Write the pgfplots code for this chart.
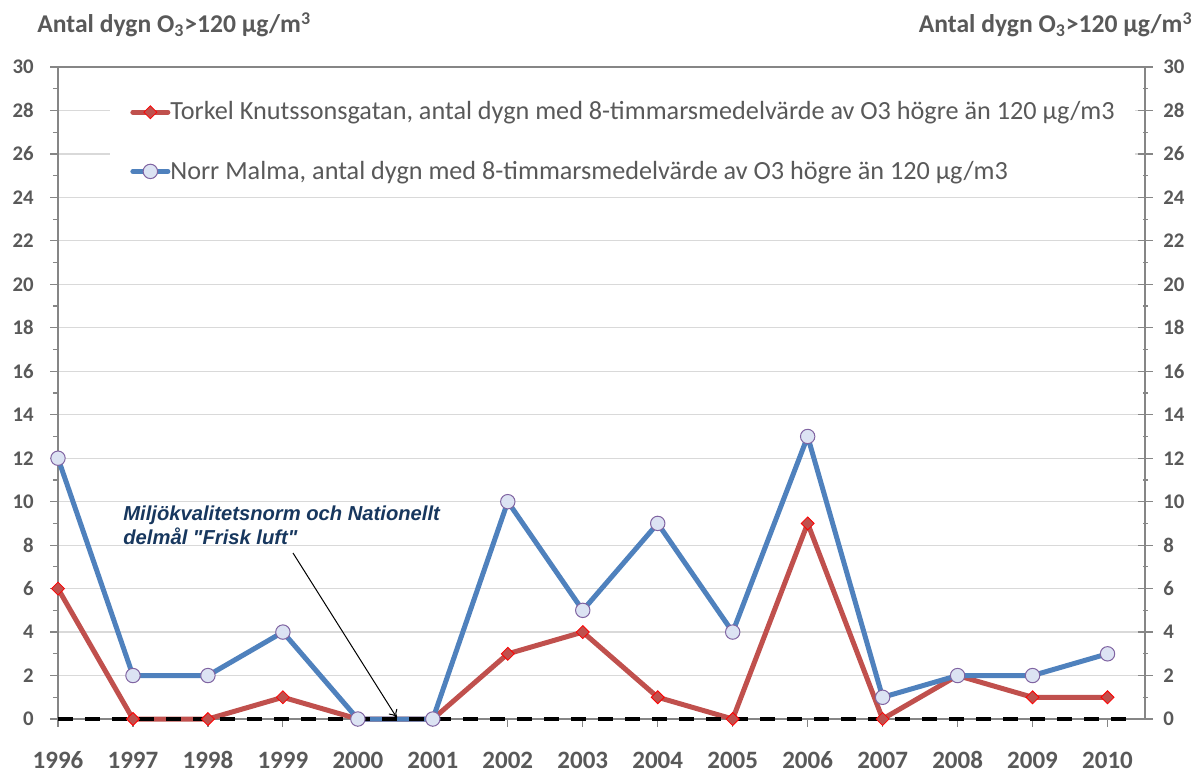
\documentclass[border=0pt]{standalone}
\usepackage{fontspec}
\setmainfont{Carlito}
\newfontfamily\arialfont{Liberation Sans}
\usepackage{pgfplots}
\usepackage{pgfplotstable}
\pgfplotsset{compat=1.18}
\usetikzlibrary{arrows.meta}
\definecolor{txtgray}{HTML}{595959}
\definecolor{axgray}{HTML}{868686}
\definecolor{gridgray}{HTML}{D9D9D9}
\definecolor{tkred}{HTML}{C0504D}
\definecolor{nmblue}{HTML}{4F81BD}
\definecolor{nmfill}{HTML}{DCE3F3}
\definecolor{nmedge}{HTML}{8064A2}
\definecolor{annblue}{HTML}{17375E}

\pgfplotstableread{
idx tk nm
0 6 12
1 0 2
2 0 2
3 1 4
4 0 0
5 0 0
6 3 10
7 4 5
8 1 9
9 0 4
10 9 13
11 0 1
12 2 2
13 1 2
14 1 3
}\datatable

\begin{document}
\begin{tikzpicture}
\begin{axis}[
  name=main,
  scale only axis, width=543.5pt, height=326pt,
  xmin=0, xmax=14.5, ymin=0, ymax=30,
  clip=false,
  axis line style={axgray, line width=0.6pt},
  xtick={0,...,14},
  xticklabels={1996,1997,1998,1999,2000,2001,2002,2003,2004,2005,2006,2007,2008,2009,2010},
  xtick pos=bottom,
  ytick={0,2,...,30}, ytick pos=left,
  minor y tick num=1,
  tick align=outside,
  major tick length=3.75pt, minor tick length=2.5pt,
  tick style={axgray, line width=0.6pt},
  ymajorgrids, grid style={gridgray, line width=0.6pt},
  /pgf/number format/assume math mode=true,
  xticklabel style={font=\fontsize{12.5}{15}\selectfont\bfseries, text=txtgray, anchor=north, inner sep=0pt, yshift=-12.4pt},
  yticklabel style={font=\fontsize{10.4}{12}\selectfont\bfseries, text=txtgray, anchor=east, inner sep=0pt, xshift=-8.25pt},
  legend image code/.code={\draw[mark repeat=2, mark phase=2, #1] plot coordinates {(0pt,0pt) (8.75pt,0pt) (17.5pt,0pt)};},
  legend style={at={(0.0478,0.969)}, anchor=north west, draw=none, fill=white,
    font=\fontsize{13.1}{15.7}\selectfont, text=txtgray, row sep=17pt,
    inner xsep=10pt, inner ysep=6pt,
    nodes={inner xsep=0pt, inner ysep=1pt},
    /tikz/every even column/.append style={column sep=0pt}},
  legend cell align=left,
]
\addplot[tkred, line width=2.5pt, line join=round, forget plot] table[x=idx, y=tk]{\datatable};
\addplot[nmblue, line width=2.5pt, line join=round, forget plot] table[x=idx, y=nm]{\datatable};
\addplot[black, line width=2.2pt, dash pattern=on 7.3pt off 6.2pt, forget plot] coordinates {(0,0) (14.4,0)};
\addplot[only marks, mark=square*, mark size=2.3pt, mark options={rotate=45, fill=tkred, draw=red, line width=0.4pt}, forget plot] table[x=idx, y=tk]{\datatable};
\addplot[only marks, mark=*, mark size=3.6pt, mark options={fill=nmfill, draw=nmedge, line width=0.5pt}, forget plot] table[x=idx, y=nm]{\datatable};
\addlegendimage{tkred, line width=2.5pt, line cap=round, mark=square*, mark size=2.3pt, mark options={rotate=45, fill=tkred, draw=red, line width=0.4pt, solid}}
\addlegendentry{Torkel Knutssonsgatan, antal dygn med 8-timmarsmedelvärde av O3 högre än 120 µg/m3}
\addlegendimage{nmblue, line width=2.5pt, line cap=round, mark=*, mark size=3.6pt, mark options={fill=nmfill, draw=nmedge, line width=0.5pt, solid}}
\addlegendentry{Norr Malma, antal dygn med 8-timmarsmedelvärde av O3 högre än 120 µg/m3}
\end{axis}
\begin{axis}[
  scale only axis, width=543.5pt, height=326pt,
  xmin=0, xmax=14.5, ymin=0, ymax=30,
  hide x axis,
  axis y line*=right,
  axis line style={axgray, line width=0.6pt},
  ytick={0,2,...,30},
  minor y tick num=1,
  tick align=center,
  major tick length=7.5pt, minor tick length=2.5pt,
  tick style={axgray, line width=0.6pt},
  /pgf/number format/assume math mode=true,
  yticklabel style={font=\fontsize{10.4}{12}\selectfont\bfseries, text=txtgray, anchor=west, inner sep=0pt, xshift=5.25pt},
]
\end{axis}
\node[anchor=base west, font=\fontsize{12.8}{15}\selectfont\bfseries, text=txtgray, inner sep=0pt]
  at ([shift={(-10.5pt,343pt)}]main.south west) {Antal dygn O\textsubscript{3}>120 µg/m\textsuperscript{3}};
\node[anchor=base east, font=\fontsize{12.8}{15}\selectfont\bfseries, text=txtgray, inner sep=0pt]
  at ([shift={(567.5pt,343pt)}]main.south west) {Antal dygn O\textsubscript{3}>120 µg/m\textsuperscript{3}};
\node[anchor=base west, font=\arialfont\fontsize{10.1}{12}\selectfont\bfseries\itshape, text=annblue, inner sep=0pt]
  at ([shift={(32.5pt,99.5pt)}]main.south west) {Miljökvalitetsnorm och Nationellt};
\node[anchor=base west, font=\arialfont\fontsize{10.1}{12}\selectfont\bfseries\itshape, text=annblue, inner sep=0pt]
  at ([shift={(32.5pt,87.5pt)}]main.south west) {delmål "Frisk luft"};
\draw[black, line width=0.5pt, -{To[length=4pt, width=5pt]}] ([shift={(117.5pt,83pt)}]main.south west) -- ([shift={(169.5pt,0.5pt)}]main.south west);
\pgfresetboundingbox
\path[use as bounding box] ([shift={(-29pt,-27pt)}]main.south west) rectangle ([shift={(570pt,359.5pt)}]main.south west);
\end{tikzpicture}
\end{document}
